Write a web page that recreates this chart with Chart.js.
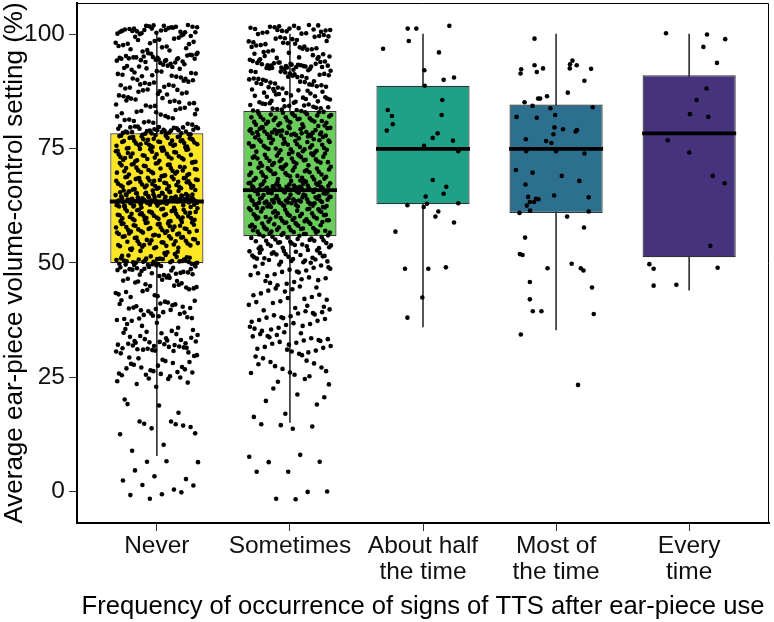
<!DOCTYPE html>
<html>
<head>
<meta charset="utf-8">
<script src="https://cdn.jsdelivr.net/npm/chart.js@4.4.1/dist/chart.umd.min.js"></script>
<style>
  html, body { margin: 0; padding: 0; background: #fff; }
  #wrap { width: 774px; height: 622px; }
</style>
</head>
<body>
<div id="wrap"><canvas id="chart"></canvas></div>
<script>
// categories and box summaries
const categories = [['Never'], ['Sometimes'], ['About half', 'the time'], ['Most of', 'the time'], ['Every', 'time']];
const boxColors = ['#FDE725', '#6ACD5B', '#1FA187', '#2D6F8E', '#46337E'];
const whiskerLow = [7.8, 15.1, 36.0, 35.3, 44.0];
const q1 = [49.9, 55.8, 62.8, 60.9, 51.2];
const median = [63.4, 65.9, 74.9, 74.9, 78.3];
const q3 = [78.3, 83.2, 88.7, 84.6, 91.0];
const whiskerHigh = [100, 100, 100, 100, 100];
const yTicks = [0, 25, 50, 75, 100];

// individual responses (jittered points)
const neverValues = [
  101.8, 101.5, 100.9, 101.2, 100.4, 101.9, 100.7, 101.4, 100.2, 101.6, 100.8, 101.1, 100.5, 101.7, 100.1, 101.3, 100.6, 102.0, 100.3, 101.0, 101.6, 100.9, 100.4, 101.8, 100.7, 99.9, 101.2, 100.5, 101.5, 100.0,
  99.6, 98.8, 97.9, 99.2, 96.5, 98.1, 97.3, 99.4, 96.9, 98.5, 97.6, 99.0, 96.2, 98.3, 97.1, 96.7, 99.7, 98.0, 97.4, 96.4, 98.7, 97.8,
  94.8, 95.2, 94.5, 93.9, 95.6, 94.1, 94.9, 93.4, 95.0, 94.6, 92.8, 94.3, 95.4, 93.7, 94.7, 92.4, 95.8, 94.2, 93.1, 94.9, 95.3, 94.4, 92.6, 93.8, 95.1, 94.6, 93.3, 92.2, 94.0, 95.7, 94.8, 93.5, 92.9, 95.5, 94.5, 93.0, 94.7, 92.5, 95.9, 94.3,
  91.6, 90.2, 89.4, 91.1, 88.7, 90.8, 89.9, 91.8, 88.3, 90.5, 89.1, 91.3, 88.9, 90.0, 89.6, 91.9, 88.1, 90.7, 89.3, 91.4, 88.5, 90.3, 89.8, 91.0, 88.8, 90.9, 89.0, 91.5,
  87.5, 86.2, 85.1, 87.9, 84.6, 86.8, 85.7, 87.2, 84.3, 86.4, 85.4, 87.7, 84.9, 86.0, 85.9, 87.0, 84.1, 86.6, 85.2, 87.4, 84.8, 86.9, 85.5, 87.8, 84.4,
  83.5, 82.1, 81.0, 83.9, 80.6, 82.7, 81.6, 83.2, 80.2, 82.4, 81.3, 83.7, 80.9, 82.0, 81.8, 83.0, 80.4, 82.9, 81.2, 83.4, 80.7, 82.5,
  79.1, 78.6, 79.6, 78.3, 79.9, 78.9, 79.3, 78.1, 79.7, 78.5, 79.0, 78.8, 79.4, 78.2, 79.8, 78.7, 79.2, 78.4, 79.5, 78.0, 79.1, 78.6, 79.6, 78.3, 78.9, 79.3, 78.5, 79.8, 78.1, 79.0, 78.7, 79.4, 78.2, 79.7, 78.8,
  77.5, 76.2, 75.3, 77.8, 76.7, 75.9, 77.1, 76.4, 75.1, 77.6, 76.9, 75.6, 77.3, 76.1, 75.4, 77.9, 76.6, 75.8, 77.0, 76.3, 75.2, 77.4, 76.8, 75.5, 77.7, 76.0, 75.7, 77.2, 76.5, 75.0, 77.5, 76.2, 75.9, 77.8, 76.7, 75.3, 77.1, 76.4, 75.6, 77.6, 76.9, 75.1, 77.3, 76.6, 75.8,
  74.5, 73.2, 72.4, 74.8, 73.7, 72.9, 74.1, 73.4, 72.1, 74.6, 73.9, 72.6, 74.3, 73.1, 72.8, 74.9, 73.6, 72.3, 74.0, 73.3, 72.7, 74.4, 73.8, 72.2, 74.7, 73.0, 72.5, 74.2, 73.5, 72.0, 74.5, 73.2, 72.9, 74.8, 73.7,
  71.5, 70.2, 69.4, 71.8, 70.7, 69.9, 71.1, 70.4, 69.1, 71.6, 70.9, 69.6, 71.3, 70.1, 69.8, 71.9, 70.6, 69.3, 71.0, 70.3, 69.7, 71.4, 70.8, 69.2, 71.7, 70.0, 69.5, 71.2, 70.5, 69.0, 71.5, 70.2, 69.9, 71.8, 70.7,
  68.5, 67.2, 66.4, 68.8, 67.7, 66.9, 68.1, 67.4, 66.1, 68.6, 67.9, 66.6, 68.3, 67.1, 66.8, 68.9, 67.6, 66.3, 68.0, 67.3, 66.7, 68.4, 67.8, 66.2, 68.7, 67.0, 66.5, 68.2, 67.5, 66.0, 68.5, 67.2, 66.9, 68.8, 67.7, 66.4, 68.1, 67.4, 66.6, 68.6, 67.9, 66.1, 68.3, 67.6, 66.8,
  65.8, 64.2, 63.5, 62.7, 65.1, 63.9, 64.6, 63.2, 62.3, 65.5, 64.0, 63.7, 62.9, 64.8, 63.4, 65.3, 63.1, 64.4, 62.5, 63.8, 65.0, 64.1, 63.6, 62.1, 64.9, 63.3, 65.6, 63.9, 64.3, 62.8,
  63.5, 65.2, 64.7, 63.0, 62.4, 64.5, 63.7, 65.9, 63.2, 64.0, 62.6, 63.6, 65.4, 64.2, 63.4, 62.2, 64.6, 63.8, 65.7, 63.1, 64.8, 62.9, 63.5, 65.0, 64.4, 63.3, 62.0, 64.1, 63.9, 65.3,
  63.0, 64.7, 62.7, 63.6, 65.5, 64.3, 63.2, 62.5, 64.9, 63.7, 65.1, 63.4, 64.0, 62.3, 63.8, 65.8, 64.5, 63.5, 62.8, 64.2, 63.1, 65.6, 63.9, 64.6, 62.6, 63.3, 65.2, 64.1, 63.6, 62.4,
  61.5, 60.2, 59.4, 61.8, 60.7, 59.9, 61.1, 60.4, 59.1, 61.6, 60.9, 59.6, 61.3, 60.1, 59.8, 61.9, 60.6, 59.3, 61.0, 60.3, 59.7, 61.4, 60.8, 59.2, 61.7, 60.0, 59.5, 61.2, 60.5, 59.0, 61.5, 60.2, 59.9, 61.8, 60.7, 59.4, 61.1, 60.4, 59.6, 61.6, 60.9, 59.1, 61.3, 60.6, 59.8,
  58.5, 57.2, 56.4, 58.8, 57.7, 56.9, 58.1, 57.4, 56.1, 58.6, 57.9, 56.6, 58.3, 57.1, 56.8, 58.9, 57.6, 56.3, 58.0, 57.3, 56.7, 58.4, 57.8, 56.2, 58.7, 57.0, 56.5, 58.2, 57.5, 56.0, 58.5, 57.2, 56.9, 58.8, 57.7, 56.4, 58.1, 57.4, 56.6, 58.6,
  55.5, 54.2, 53.4, 55.8, 54.7, 53.9, 55.1, 54.4, 53.1, 55.6, 54.9, 53.6, 55.3, 54.1, 53.8, 55.9, 54.6, 53.3, 55.0, 54.3, 53.7, 55.4, 54.8, 53.2, 55.7, 54.0, 53.5, 55.2, 54.5, 53.0, 55.5, 54.2, 53.9, 55.8, 54.7,
  50.2, 50.8, 49.6, 51.3, 50.5, 49.9, 52.1, 50.1, 50.7, 49.7, 51.0, 50.4, 52.6, 49.8, 50.9, 51.6, 50.3, 49.5, 50.6, 52.3, 50.0, 51.2, 49.9, 50.5, 51.9, 50.2, 49.6, 50.8, 52.8, 50.4, 51.4, 49.8, 50.1, 50.7, 51.1, 49.7, 50.3, 52.4, 50.9, 50.0, 51.7, 49.5, 50.6, 50.2, 51.5,
  48.9, 48.2, 47.5, 49.3, 48.6, 47.8, 49.1, 48.4, 47.2, 48.8, 47.9, 49.4, 48.1, 47.6, 48.7, 49.2, 47.3, 48.5, 48.0, 47.7, 49.0, 48.3, 47.4, 48.6, 47.1,
  46.5, 45.2, 44.1, 43.4, 46.8, 45.7, 44.6, 42.9, 46.1, 45.0, 43.8, 44.4, 46.3, 42.5, 45.5, 44.9, 43.1, 46.7, 45.9, 44.2, 42.7, 43.6, 46.0, 45.3, 44.7,
  41.5, 40.2, 39.1, 38.4, 41.8, 40.7, 39.6, 37.9, 41.1, 40.0, 38.8, 39.4, 37.5, 41.3, 40.5, 38.1, 39.9, 37.7, 40.9, 38.6, 41.7, 39.2, 37.3, 40.4, 38.9, 41.0, 39.7, 37.8, 40.1, 38.3,
  36.6, 35.8, 34.9, 34.2, 33.5, 32.9, 32.4, 31.8, 31.3, 30.7, 36.2, 35.3, 34.6, 33.8, 33.1, 32.6, 32.1, 31.6, 31.1, 30.4, 36.9, 35.5, 34.4, 33.3, 32.8, 32.2, 31.9, 31.5, 30.9, 30.2,
  35.1, 34.0, 33.6, 32.7, 32.3, 31.7, 31.2, 30.6, 33.0, 32.5, 31.4, 30.8, 34.7, 32.0, 31.0,
  29.6, 28.8, 27.9, 27.2, 26.5, 25.8, 25.2, 29.1, 28.3, 27.5, 26.9, 26.1, 25.5, 29.8, 28.5, 27.7, 26.7, 26.3, 25.4, 28.1, 27.1, 26.0, 25.7, 29.3, 24.9,
  24.7, 24.1, 24.6, 23.5, 23.8, 22.9,
  20.1, 14.7, 14.8, 12.7, 10.2, 8.9, 14.4, 13.8, 12.5, 15.3, 15.3, 14.1, 18.8, 19.1, 17.2, 6.5, 6.4, 6.6, 4.6, 2.7, 3.3, 2.4, 0.4, 1.4, 1.3, -0.6, -0.8, -0.2, -1.6
];

const sometimesValues = [
  101.7, 100.9, 101.3, 100.4, 101.9, 100.6, 101.1, 100.2, 101.5, 100.8, 101.8, 100.3, 101.0, 100.7, 101.4, 100.1, 101.6, 100.5, 101.2, 100.0, 102.0, 100.9,
  99.5, 98.7, 97.8, 96.9, 99.1, 98.2, 97.3, 96.4, 99.8, 98.9, 97.6, 96.7, 99.3, 98.4, 97.1, 96.2, 99.6, 98.0, 97.5, 96.6, 99.0, 98.5, 97.9, 96.1, 99.4, 98.1, 97.2, 96.8,
  93.1, 92.8, 93.5, 94.2, 92.4, 93.8, 95.1, 93.3, 92.6, 94.6, 93.0, 95.7, 92.9, 93.6, 94.0, 92.2, 93.4, 95.4, 92.7, 94.4, 93.2, 92.5, 93.9, 95.9, 93.7, 92.1, 94.8, 93.1, 92.8, 95.2, 93.5, 92.3, 94.1, 93.0, 92.6, 95.6, 93.3, 94.5, 92.9, 93.8, 92.0, 94.9, 93.2, 95.0, 92.7,
  91.7, 90.4, 89.2, 88.5, 91.2, 90.0, 89.7, 88.1, 91.9, 90.8, 89.4, 88.8, 91.4, 90.2, 89.0, 88.3, 91.0, 90.6, 89.8, 88.6, 91.6, 90.3, 89.5, 88.0, 91.3, 90.9, 89.1, 88.9, 91.8, 90.1, 89.6, 88.4, 91.1, 90.7, 89.3,
  87.6, 86.8, 85.9, 85.2, 87.2, 86.4, 85.6, 87.9, 86.1, 85.4, 87.4, 86.6, 85.1, 87.0, 86.9, 85.7, 87.7, 86.3, 85.3, 87.1, 86.5, 85.8, 87.5, 86.2, 85.0,
  84.8, 84.1, 83.5, 84.5, 83.2, 84.9, 83.8, 84.3, 83.1, 84.6, 83.6, 84.0, 83.4, 84.7, 83.9, 84.2, 83.3, 84.4, 83.7, 83.0,
  82.7, 81.9, 81.2, 80.5, 82.3, 81.5, 80.8, 82.9, 81.1, 80.2, 82.5, 81.7, 80.6, 82.1, 81.3, 80.9, 82.8, 81.8, 80.3, 82.4, 81.0, 80.7, 82.6, 81.6, 80.1, 82.0, 81.4, 80.4, 82.2, 81.8, 80.8, 82.9, 81.2, 80.0, 82.4,
  79.6, 78.4, 77.8, 78.9, 79.2, 77.3, 78.1, 79.8, 78.6, 77.6, 78.2, 79.4, 77.9, 78.7, 79.0, 77.1, 78.3, 79.7, 78.5, 77.5, 78.0, 79.3, 77.7, 78.8, 79.5, 77.2, 78.1, 79.9, 78.4, 77.4, 78.6, 79.1, 77.8, 78.2, 79.6, 77.0, 78.9, 79.2, 78.3, 77.6, 78.5, 79.4, 77.9, 78.0, 78.7,
  76.7, 75.9, 75.2, 74.5, 76.3, 75.5, 74.8, 76.9, 75.1, 74.2, 76.5, 75.7, 74.6, 76.1, 75.3, 74.9, 76.8, 75.8, 74.3, 76.4, 75.0, 74.7, 76.6, 75.6, 74.1, 76.0, 75.4, 74.4, 76.2, 75.8, 74.8, 76.9, 75.2, 74.0, 76.4,
  73.7, 72.9, 72.2, 71.5, 73.3, 72.5, 71.8, 73.9, 72.1, 71.2, 73.5, 72.7, 71.6, 73.1, 72.3, 71.9, 73.8, 72.8, 71.3, 73.4, 72.0, 71.7, 73.6, 72.6, 71.1, 73.0, 72.4, 71.4, 73.2, 72.8, 71.8, 73.9, 72.2, 71.0, 73.4,
  70.7, 69.9, 69.2, 68.5, 70.3, 69.5, 68.8, 70.9, 69.1, 68.2, 70.5, 69.7, 68.6, 70.1, 69.3, 68.9, 70.8, 69.8, 68.3, 70.4, 69.0, 68.7, 70.6, 69.6, 68.1, 70.0, 69.4, 68.4, 70.2, 69.8, 68.8, 70.9, 69.2, 68.0, 70.4,
  67.6, 66.2, 65.8, 66.9, 67.1, 65.4, 66.5, 67.8, 66.0, 65.6, 66.7, 67.3, 65.2, 66.3, 67.9, 66.1, 65.9, 66.8, 67.4, 65.3, 66.4, 67.0, 66.6, 65.7, 67.7, 66.2, 65.1,
  66.9, 67.2, 65.5, 66.0, 67.5, 66.4, 65.8, 66.6, 67.1, 65.0, 66.3, 67.6, 66.8, 65.6, 66.1, 67.3, 65.4, 66.5, 67.9, 66.7, 65.2, 66.0, 67.0, 65.9, 66.2, 67.4, 66.6, 65.3,
  64.6, 63.2, 62.8, 63.9, 64.1, 62.4, 63.5, 64.8, 63.0, 62.6, 63.7, 64.3, 62.2, 63.3, 64.9, 63.1, 62.9, 63.8, 64.4, 62.3, 63.4, 64.0, 63.6, 62.7, 64.7, 63.2, 62.1,
  63.9, 64.2, 62.5, 63.0, 64.5, 63.4, 62.8, 63.6, 64.1, 62.0, 63.3, 64.6, 63.8, 62.6, 63.1, 64.3, 62.4, 63.5, 64.9, 63.7, 62.2, 63.0, 64.0, 62.9, 63.2, 64.4, 63.6, 62.3,
  61.7, 60.9, 60.2, 59.5, 61.3, 60.5, 59.8, 61.9, 60.1, 59.2, 61.5, 60.7, 59.6, 61.1, 60.3, 59.9, 61.8, 60.8, 59.3, 61.4, 60.0, 59.7, 61.6, 60.6, 59.1, 61.0, 60.4, 59.4, 61.2, 60.8, 59.8, 61.9, 60.2, 59.0, 61.4, 60.5, 59.6, 61.7, 60.1, 59.3,
  58.7, 57.9, 57.2, 56.5, 58.3, 57.5, 56.8, 58.9, 57.1, 56.2, 58.5, 57.7, 56.6, 58.1, 57.3, 56.9, 58.8, 57.8, 56.3, 58.4, 57.0, 56.7, 58.6, 57.6, 56.1, 58.0, 57.4, 56.4, 58.2, 57.8, 56.8, 58.9, 57.2, 56.0, 58.4, 57.5, 56.6, 58.7, 57.1, 56.3,
  55.7, 54.9, 54.2, 53.5, 55.3, 54.5, 53.8, 55.9, 54.1, 53.2, 55.5, 54.7, 53.6, 55.1, 54.3, 53.9, 55.8, 54.8, 53.3, 55.4, 54.0, 53.7, 55.6, 54.6, 53.1, 55.0, 54.4, 53.4, 55.2, 54.8,
  52.7, 51.9, 51.2, 50.5, 52.3, 51.5, 50.8, 52.9, 51.1, 50.2, 52.5, 51.7, 50.6, 52.1, 51.3, 50.9, 52.8, 51.8, 50.3, 52.4, 51.0, 50.7, 52.6, 51.6, 50.1, 52.0, 51.4, 50.4, 52.2, 50.0,
  49.6, 48.7, 47.9, 47.1, 46.2, 45.4, 49.2, 48.3, 47.5, 46.6, 45.8, 49.8, 48.9, 48.0, 47.3, 46.4, 45.6, 49.4, 48.5, 47.7, 46.8, 45.1, 49.0, 48.1, 46.0,
  44.6, 43.7, 42.9, 42.1, 41.2, 40.4, 44.2, 43.3, 42.5, 41.6, 40.8, 44.8, 43.9, 43.0, 42.3, 41.4, 40.6, 44.4, 41.9, 40.1,
  39.6, 38.7, 37.9, 37.1, 36.2, 35.4, 39.2, 38.3, 37.5, 36.6, 35.8, 39.8, 38.9, 38.0, 37.3, 36.4, 35.6, 39.4, 38.5, 37.7, 36.8, 35.1, 39.0, 38.1, 36.0,
  34.6, 33.7, 32.9, 32.1, 31.2, 30.4, 34.2, 33.3, 32.5, 31.6, 30.8, 34.8, 33.9, 33.0, 32.3, 31.4, 30.6, 34.4, 33.5, 32.7, 31.8, 30.1, 34.0, 33.1, 31.0,
  29.5, 28.6, 27.4, 26.3, 25.5, 29.1, 28.0, 26.8, 25.9, 29.8, 28.3, 27.1, 26.0, 27.8, 25.2,
  24.0, 23.4, 21.2, 19.8, 19.0, 17.0, 16.3, 24.6, 22.5, 20.6,
  13.7, 14.7, 14.2, 14.5, 7.6, 8.0, 6.4, 6.5, 4.3, 4.3, -0.1, -1.6, 0.0, -1.7
];

const halfValues = [101.2, 101.2, 101.8, 98.5, 96.8, 96.0, 92.1, 90.0, 90.5, 88.7, 85.6, 83.4, 82.1, 82.3, 80.3, 78.9, 78.3, 77.3, 76.7, 75.6, 74.4, 68.1, 66.6, 65.1, 64.5, 62.6, 62.9, 62.2, 63.0, 61.2, 60.1, 58.8, 56.8, 48.7, 48.7, 49.0, 42.4, 38.0];
const halfJitter = [-0.115, -0.05, 0.198, -0.107, -0.30, 0.12, 0.01, 0.155, 0.233, 0.013, 0.145, -0.265, -0.233, 0.14, -0.227, -0.272, 0.11, 0.073, 0.225, 0.008, 0.265, 0.073, 0.175, 0.155, 0.02, -0.117, 0.03, 0.005, 0.265, 0.115, 0.093, 0.233, -0.207, -0.135, 0.04, 0.172, -0.005, -0.117];

const mostValues = [99.0, 92.3, 91.4, 93.2, 91.7, 92.5, 94.2, 93.4, 93.2, 92.5, 92.4, 89.8, 87.2, 85.1, 85.9, 85.9, 86.4, 84.3, 83.8, 84.0, 81.9, 81.7, 82.3, 79.6, 79.2, 78.7, 79.0, 78.1, 77.0, 76.6, 76.2, 74.4, 74.4, 73.9, 70.3, 69.7, 69.0, 67.9, 67.1, 64.7, 64.3, 64.4, 64.0, 63.9, 63.3, 63.3, 62.5, 61.4, 60.9, 61.2, 60.1, 57.7, 55.5, 51.9, 51.7, 48.8, 49.8, 48.8, 48.3, 45.8, 44.6, 42.0, 39.4, 39.4, 38.8, 34.3, 23.3];
const mostJitter = [-0.162, -0.262, -0.267, -0.162, -0.145, -0.098, 0.123, 0.105, 0.155, 0.103, 0.263, 0.213, 0.088, -0.237, -0.135, -0.12, -0.068, -0.177, -0.042, 0.275, -0.297, -0.145, -0.007, -0.012, 0.052, 0.147, 0.157, -0.02, -0.227, -0.075, -0.035, -0.225, 0, 0.213, -0.302, -0.177, 0.043, 0.175, -0.23, -0.015, 0.245, -0.21, -0.152, -0.132, -0.165, -0.197, -0.22, -0.195, -0.275, 0.245, 0.083, 0.21, -0.233, -0.272, -0.252, -0.064, 0.117, 0.186, 0.206, -0.197, 0.27, -0.197, -0.175, -0.11, 0.283, -0.265, 0.165];

const everyValues = [100.2, 99.9, 98.9, 97.2, 93.7, 88.1, 85.6, 82.5, 81.9, 76.8, 74.1, 69.0, 67.4, 53.7, 49.7, 48.7, 48.9, 45.0, 45.2];
const everyJitter = [-0.174, 0.134, 0.271, 0.107, 0.209, 0.131, 0.056, 0.006, 0.144, -0.161, 0.001, 0.177, 0.267, 0.159, -0.299, -0.267, 0.214, -0.267, -0.096];

// dense groups: spread points across the box width with a golden-ratio sequence (no randomness)
function spreadJitter(n) {
    const out = [];
    for (let i = 0; i < n; i++) {
        out.push(((i * 0.6180339887 + 0.37) % 1 - 0.5) * 0.62);
    }
    return out;
}

const groups = [
    [neverValues, spreadJitter(neverValues.length)],
    [sometimesValues, spreadJitter(sometimesValues.length)],
    [halfValues, halfJitter],
    [mostValues, mostJitter],
    [everyValues, everyJitter]
];

const pointData = [];
groups.forEach(([values, jitter], g) => {
    values.forEach((v, i) => pointData.push({ x: g + 1 + jitter[i], y: v }));
});

const FONT = 'Liberation Sans, Arial, Helvetica, sans-serif';

const panelBorder = {
    id: 'panelBorder',
    afterDatasetsDraw(chart) {
        const ctx = chart.ctx;
        const a = chart.chartArea;
        ctx.save();
        ctx.strokeStyle = '#000';
        ctx.lineWidth = 1;
        ctx.beginPath();
        ctx.moveTo(a.left, a.top + 0.5);
        ctx.lineTo(a.right - 0.5, a.top + 0.5);
        ctx.lineTo(a.right - 0.5, a.bottom);
        ctx.stroke();
        ctx.restore();
    }
};

new Chart(document.getElementById('chart').getContext('2d'), {
    type: 'bar',
    data: {
        datasets: [
            {
                type: 'bar',
                label: 'whisker',
                data: categories.map((c, i) => ({ x: i + 1, y: [whiskerLow[i], whiskerHigh[i]] })),
                backgroundColor: '#333333',
                barThickness: 1,
                grouped: false,
                order: 5
            },
            {
                type: 'bar',
                label: 'box',
                data: categories.map((c, i) => ({ x: i + 1, y: [q1[i], q3[i]] })),
                backgroundColor: boxColors,
                borderColor: '#333333',
                borderWidth: 1.2,
                borderSkipped: false,
                barPercentage: 0.7,
                categoryPercentage: 1,
                grouped: false,
                order: 4
            },
            {
                type: 'scatter',
                label: 'median',
                data: categories.map((c, i) => ({ x: i + 1, y: median[i] })),
                pointStyle: 'line',
                pointRadius: 47,
                borderColor: '#000',
                borderWidth: 3.8,
                order: 3
            },
            {
                type: 'scatter',
                label: 'responses',
                data: pointData,
                pointRadius: 2.3,
                backgroundColor: '#000',
                borderWidth: 0,
                order: 1
            }
        ]
    },
    options: {
        responsive: true,
        maintainAspectRatio: false,
        animation: false,
        events: [],
        layout: { autoPadding: false, padding: { top: 3, right: 5, left: 0, bottom: 0 } },
        plugins: {
            legend: { display: false },
            tooltip: { enabled: false }
        },
        scales: {
            x: {
                type: 'linear',
                min: 0.4,
                max: 5.6,
                offset: false,
                afterBuildTicks: (scale) => { scale.ticks = categories.map((c, i) => ({ value: i + 1 })); },
                afterFit: (scale) => { scale.height = 99; scale.paddingLeft = 0; scale.paddingRight = 0; },
                grid: { display: true, drawOnChartArea: false, drawTicks: true, tickLength: 8, tickColor: '#333', offset: false },
                border: { display: true, color: '#000', width: 2 },
                ticks: {
                    autoSkip: false,
                    maxRotation: 0,
                    padding: 2,
                    color: '#111',
                    font: { family: FONT, size: 24.5, lineHeight: 1.08 },
                    callback: (v) => categories[Math.round(v) - 1]
                },
                title: {
                    display: true,
                    text: 'Frequency of occurrence of signs of TTS after ear-piece use',
                    color: '#000',
                    padding: { top: 0, bottom: 0 },
                    font: { family: FONT, size: 25.6, lineHeight: 1.2 }
                }
            },
            y: {
                type: 'linear',
                min: -6.9,
                max: 106.8,
                afterBuildTicks: (scale) => { scale.ticks = yTicks.map(v => ({ value: v })); },
                afterFit: (scale) => { scale.width = 77; scale.paddingTop = 0; scale.paddingBottom = 0; },
                grid: { display: true, drawOnChartArea: false, drawTicks: true, tickLength: 8, tickColor: '#333' },
                border: { display: true, color: '#000', width: 2 },
                ticks: {
                    padding: 4,
                    color: '#111',
                    font: { family: FONT, size: 24.5 }
                },
                title: {
                    display: true,
                    text: 'Average ear-piece volume-control setting (%)',
                    color: '#000',
                    padding: { top: 0, bottom: 0 },
                    font: { family: FONT, size: 26, lineHeight: 1.15 }
                }
            }
        }
    },
    plugins: [panelBorder]
});
</script>
</body>
</html>
